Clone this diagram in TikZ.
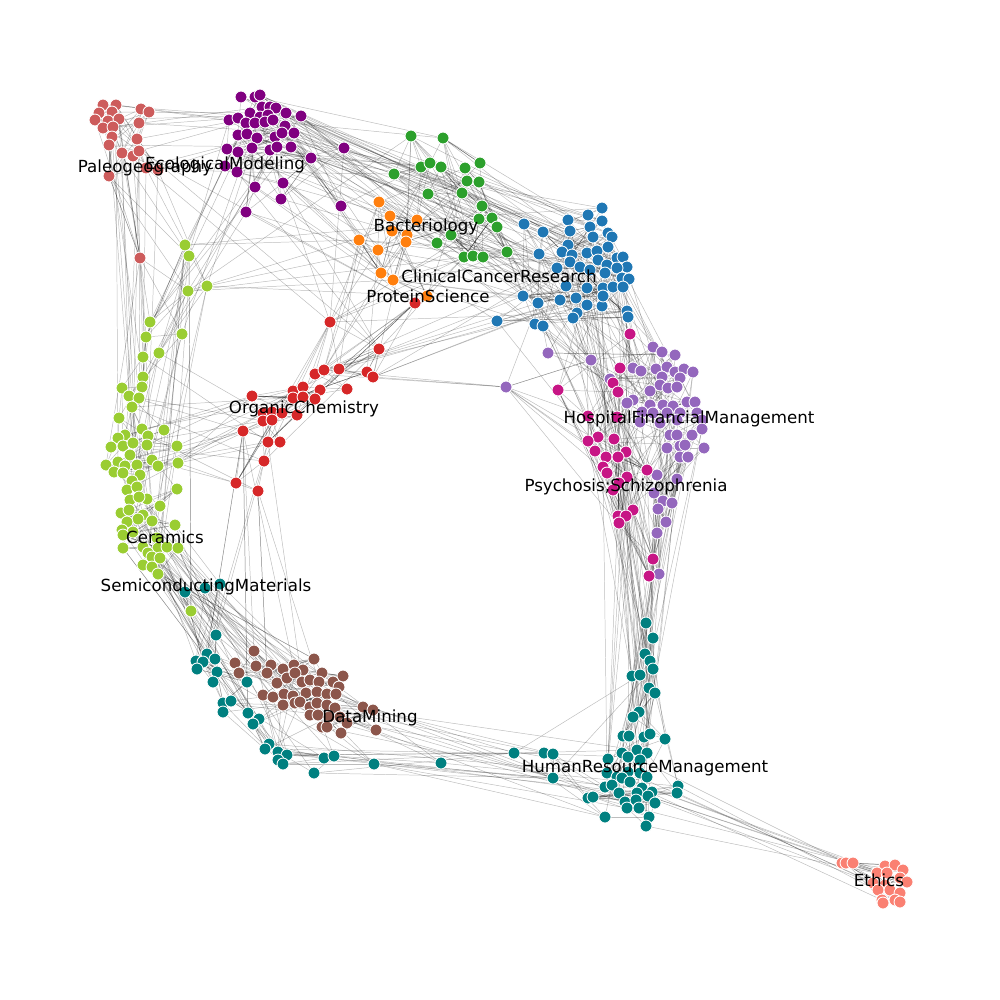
\documentclass[tikz,border=0pt]{standalone}
\usepackage{fontspec}
\newfontfamily\dvsans{DejaVu Sans}
\pgfdeclarelayer{bg}
\pgfsetlayers{bg,main}
\definecolor{cP}{HTML}{CD5C5C}
\definecolor{cE}{HTML}{800080}
\definecolor{cG}{HTML}{2CA02C}
\definecolor{cO}{HTML}{FF7F0E}
\definecolor{cB}{HTML}{1F77B4}
\definecolor{cU}{HTML}{9467BD}
\definecolor{cM}{HTML}{C71585}
\definecolor{cR}{HTML}{D62728}
\definecolor{cY}{HTML}{9ACD32}
\definecolor{cS}{HTML}{008080}
\definecolor{cD}{HTML}{8C564B}
\definecolor{cH}{HTML}{008080}
\definecolor{cT}{HTML}{FA8072}
\tikzset{
  vtx/.style={circle, draw=white, line width=0.6pt, inner sep=0pt, minimum size=8.6pt},
  edge/.style={draw=black, opacity=0.26, line width=0.35pt},
  lbl/.style={font=\dvsans\fontsize{12}{14}\selectfont, inner sep=0pt, text=black}
}
\newcommand\cluster[3]{\foreach \p [count=\i] in {#3} \node[vtx, fill=#2] (#1\i) at \p {};}
\newcommand\intra[4]{%
  \foreach \k in {1,...,#3}{\pgfmathrandominteger{\ia}{1}{#2}\pgfmathrandominteger{\dd}{1}{6}%
    \pgfmathtruncatemacro{\ib}{mod(\ia+\dd-1,#2)+1}\draw[edge] (#1\ia.center) -- (#1\ib.center);}%
  \foreach \k in {1,...,#4}{\pgfmathrandominteger{\ia}{1}{#2}\pgfmathrandominteger{\ib}{1}{#2}%
    \draw[edge] (#1\ia.center) -- (#1\ib.center);}}
% inter-cluster links between index ranges
\newcommand\interr[7]{%
  \foreach \k in {1,...,#7}{\pgfmathrandominteger{\ia}{#2}{#3}\pgfmathrandominteger{\ib}{#5}{#6}%
    \draw[edge] (#1\ia.center) -- (#4\ib.center);}}
\begin{document}
\begin{tikzpicture}[x=0.72pt, y=-0.72pt]
\pgfmathsetseed{7}
\useasboundingbox (0,0) rectangle (1000,1000);
% Paleogeography
\cluster{P}{cP}{(103,105),(116,105),(99,113),(112,112),(95,120),(108,121),(119,119),(103,128),(113,127),(141,109),(149,112),(139,123),(112,137),(137,139),(109,145),(122,153),(133,156),(139,151),(109,176),(146,168),(158,170),(140,258)}
% EcologicalModeling
\cluster{E}{cE}{(241,97),(255,97),(260,95),(262,107),(270,107),(276,108),(250,113),(260,117),(268,115),(286,113),(301,116),(229,120),(238,118),(246,123),(255,123),(265,122),(273,120),(285,126),(238,135),(247,134),(257,138),(275,137),(282,133),(294,133),(227,149),(238,152),(252,148),(270,150),(277,147),(291,147),(311,158),(237,172),(255,187),(283,183),(281,199),(246,212),(225,166),(344,148),(341,206)}
% Bacteriology (green)
\cluster{G}{cG}{(411,136),(443,138),(394,174),(421,167),(430,163),(441,167),(465,168),(480,163),(467,181),(479,182),(428,194),(462,193),(482,206),(479,219),(492,218),(497,227),(451,235),(437,243),(464,257),(473,256),(483,257),(507,252)}
% ProteinScience (orange)
\cluster{O}{cO}{(379,202),(390,216),(417,220),(392,231),(407,235),(406,242),(359,240),(378,250),(381,273),(393,280),(427,296)}
% ClinicalCancerResearch (blue)
\cluster{B}{cB}{(524,224),(543,232),(539,254),(568,220),(570,231),(588,215),(602,208),(602,221),(590,227),(608,233),(593,237),(612,237),(568,245),(562,252),(572,255),(587,253),(597,251),(608,247),(617,258),(623,257),(627,267),(570,262),(580,267),(598,260),(607,265),(557,268),(590,270),(605,273),(617,268),(622,278),(629,279),(566,286),(587,288),(603,288),(613,287),(623,287),(523,296),(538,303),(560,300),(576,298),(587,305),(602,306),(603,296),(577,313),(573,318),(497,321),(535,324),(543,326),(627,311),(628,317)}
% HospitalFinancialManagement (purple)
\cluster{U}{cU}{(548,353),(591,360),(653,347),(662,352),(675,355),(633,368),(641,371),(656,369),(667,367),(675,372),(684,369),(693,372),(610,379),(662,377),(680,378),(660,385),(668,388),(677,387),(650,391),(633,400),(627,403),(650,405),(663,405),(673,406),(687,402),(695,402),(642,412),(653,413),(667,413),(680,413),(697,413),(640,422),(660,423),(677,420),(702,420),(670,435),(677,435),(692,435),(702,429),(667,448),(680,446),(685,445),(704,448),(680,457),(688,457),(657,475),(677,479),(654,493),(663,501),(672,503),(658,509),(666,522),(657,533),(659,574),(506,387)}
% Psychosis;Schizophrenia (magenta)
\cluster{M}{cM}{(630,334),(620,368),(613,383),(618,392),(558,390),(588,416),(617,417),(598,437),(588,441),(595,451),(614,439),(606,457),(626,452),(618,457),(603,467),(607,473),(647,470),(627,477),(619,483),(613,490),(633,510),(618,516),(626,516),(619,523),(653,559),(649,576)}
% OrganicChemistry (red)
\cluster{R}{cR}{(330,322),(415,303),(379,349),(315,374),(324,370),(339,369),(367,372),(373,377),(347,389),(293,391),(303,387),(320,390),(293,398),(303,397),(315,399),(252,396),(263,413),(272,412),(282,413),(297,415),(263,421),(272,420),(243,431),(268,442),(280,442),(264,461),(236,483),(258,491)}
% Ceramics (yellowgreen)
\cluster{Y}{cY}{(185,245),(189,256),(207,286),(188,291),(150,322),(146,337),(182,334),(159,353),(143,357),(143,377),(142,387),(122,388),(129,396),(139,398),(132,407),(119,418),(142,429),(164,430),(125,435),(148,436),(118,438),(111,447),(123,446),(133,443),(147,445),(177,446),(106,465),(118,462),(130,455),(125,466),(137,465),(152,460),(158,466),(178,463),(114,472),(123,473),(140,475),(132,481),(127,490),(137,487),(147,499),(130,500),(139,497),(177,489),(160,506),(121,513),(129,510),(143,515),(138,519),(127,522),(152,521),(175,525),(122,530),(133,532),(123,535),(157,538),(123,548),(143,547),(158,548),(167,547),(178,548),(148,553),(152,557),(160,558),(143,565),(152,567),(158,574),(191,611)}
% SemiconductingMaterials (teal)
\cluster{S}{cS}{(185,592),(205,588),(220,584),(216,635),(196,661),(207,654),(203,662),(215,659),(197,669),(217,672),(213,682),(247,682),(223,703),(231,701),(223,712),(248,713),(259,719),(253,724),(269,744),(265,749),(278,752),(287,755),(278,760),(283,764),(324,758),(334,756),(314,773),(374,764),(441,763)}
% DataMining (brown)
\cluster{D}{cD}{(254,651),(235,663),(256,666),(271,665),(239,673),(267,673),(283,669),(294,665),(303,670),(314,659),(322,673),(343,676),(277,683),(287,678),(295,673),(302,682),(310,680),(319,682),(333,682),(339,687),(263,695),(273,697),(284,694),(293,696),(306,693),(317,692),(327,694),(336,694),(283,705),(295,703),(300,702),(310,707),(317,703),(327,705),(335,708),(310,715),(318,715),(329,717),(340,717),(347,723),(363,707),(373,710),(322,727),(327,727),(341,733),(376,730)}
% HumanResourceManagement (teal)
\cluster{H}{cH}{(514,753),(544,753),(553,754),(553,778),(646,623),(653,638),(645,654),(650,661),(653,669),(632,676),(640,675),(649,688),(655,693),(639,712),(633,717),(623,736),(629,736),(644,737),(650,734),(665,739),(622,753),(637,750),(647,753),(608,759),(628,757),(640,760),(607,773),(617,777),(628,772),(640,773),(647,777),(605,787),(612,785),(622,778),(630,782),(642,788),(652,792),(678,786),(677,793),(588,798),(593,797),(619,793),(637,793),(648,796),(625,802),(636,800),(655,803),(627,808),(639,808),(649,817),(605,817),(646,826)}
% Ethics (salmon)
\cluster{T}{cT}{(842,863),(846,863),(853,863),(885,866),(895,865),(903,870),(877,873),(887,873),(900,878),(873,883),(885,885),(907,882),(878,890),(890,890),(900,893),(882,900),(895,900),(883,903),(900,902)}

\begin{pgfonlayer}{bg}
% within clusters
\intra{P}{22}{45}{12}
\intra{E}{39}{80}{30}
\intra{G}{22}{45}{20}
\intra{O}{11}{20}{10}
\intra{B}{50}{110}{45}
\intra{U}{55}{110}{40}
\intra{M}{26}{55}{22}
\intra{R}{28}{60}{22}
\intra{Y}{68}{140}{30}
\intra{S}{29}{60}{12}
\intra{D}{46}{95}{40}
\intra{H}{52}{110}{40}
\intra{T}{19}{35}{10}
% between clusters
\interr{P}{1}{21}{E}{1}{39}{15}
\interr{P}{1}{22}{Y}{1}{40}{20}
\interr{P}{22}{22}{Y}{1}{10}{4}
\interr{P}{1}{21}{R}{1}{3}{3}
\interr{E}{1}{39}{G}{1}{22}{20}
\interr{E}{1}{39}{O}{1}{11}{12}
\interr{E}{1}{39}{B}{1}{50}{30}
\interr{E}{25}{39}{R}{1}{3}{6}
\interr{E}{1}{39}{Y}{1}{8}{12}
\interr{G}{1}{22}{B}{1}{50}{25}
\interr{G}{1}{22}{O}{1}{11}{20}
\interr{G}{11}{22}{U}{1}{2}{4}
\interr{O}{1}{11}{B}{1}{50}{12}
\interr{O}{1}{11}{R}{1}{9}{10}
\interr{O}{1}{11}{M}{1}{5}{3}
\interr{R}{1}{9}{B}{26}{50}{10}
\interr{R}{1}{3}{G}{11}{22}{5}
\interr{R}{3}{9}{U}{55}{55}{3}
\interr{R}{10}{28}{Y}{8}{35}{25}
\interr{R}{23}{28}{S}{1}{12}{6}
\interr{R}{23}{28}{D}{1}{20}{6}
\interr{Y}{1}{4}{O}{1}{11}{5}
\interr{Y}{1}{4}{G}{1}{22}{3}
\interr{B}{1}{50}{U}{1}{55}{30}
\interr{B}{1}{50}{M}{1}{26}{30}
\interr{U}{1}{55}{M}{1}{26}{40}
\interr{M}{8}{26}{H}{5}{30}{30}
\interr{U}{36}{54}{H}{5}{30}{20}
\interr{Y}{36}{68}{S}{1}{20}{25}
\interr{Y}{36}{68}{D}{1}{28}{20}
\interr{S}{1}{29}{D}{1}{46}{20}
\interr{S}{18}{29}{H}{1}{4}{8}
\interr{S}{18}{29}{H}{20}{52}{7}
\interr{D}{20}{46}{H}{1}{4}{6}
\interr{D}{20}{46}{H}{20}{52}{6}
\interr{H}{20}{52}{T}{1}{19}{12}
\end{pgfonlayer}

\node[lbl] (lP) at (145,168) {Paleogeography};
\node[lbl] (lE) at (225,165) {EcologicalModeling};
\node[lbl] (lG) at (426,227) {Bacteriology};
\node[lbl] (lB) at (499,276) {ClinicalCancerResearch};
\node[lbl] (lO) at (428,296) {ProteinScience};
\node[lbl] (lR) at (304,409) {OrganicChemistry};
\node[lbl] (lU) at (689,419) {HospitalFinancialManagement};
\node[lbl] (lM) at (626,487) {Psychosis;Schizophrenia};
\node[lbl] (lY) at (165,537) {Ceramics};
\node[lbl] (lS) at (206,587) {SemiconductingMaterials};
\node[lbl] (lD) at (370,718) {DataMining};
\node[lbl] (lH) at (645,768) {HumanResourceManagement};
\node[lbl] (lT) at (879,880) {Ethics};
\end{tikzpicture}
\end{document}
